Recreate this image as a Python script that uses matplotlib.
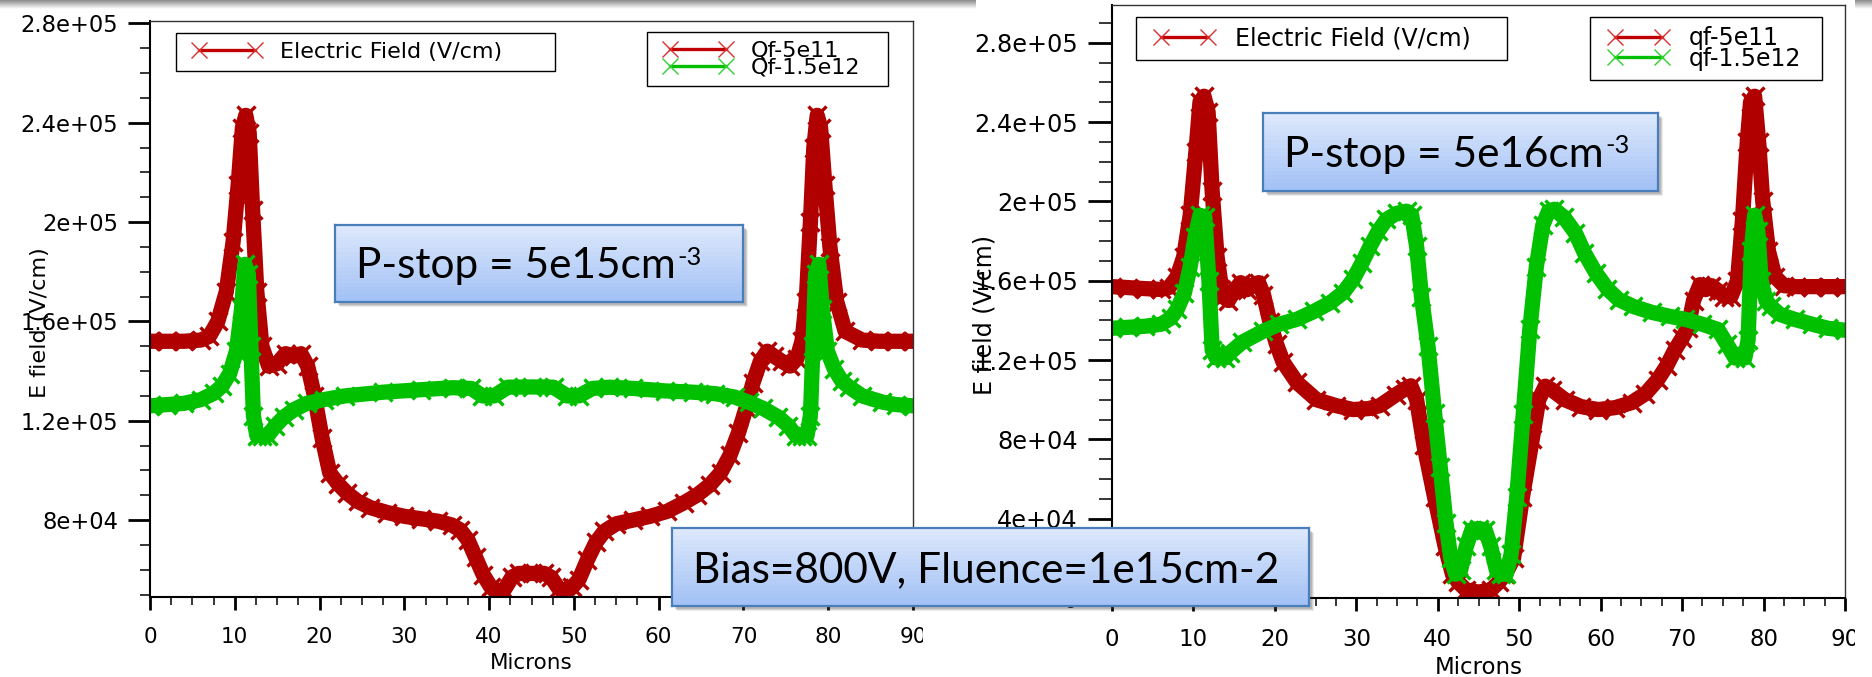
import numpy as np
import matplotlib
matplotlib.use('Agg')
import matplotlib.pyplot as plt
from matplotlib.ticker import MultipleLocator, FuncFormatter
from matplotlib.lines import Line2D
from matplotlib.legend_handler import HandlerLine2D
from matplotlib.colors import LinearSegmentedColormap
from matplotlib.patches import Rectangle

W, H = 1872, 677

# ---- left panel : P-stop = 5e15 ----
xL_red = [0, 2, 4, 6, 7, 8, 9, 9.8, 10.4, 10.9, 11.3, 11.7, 12.1, 12.6, 13.2, 14, 15, 16, 17, 17.8,
          18.6, 19.4, 20.3, 21.2, 22.2, 23.2, 24.5, 26, 28, 30, 32, 34, 35.6, 36.6, 37.5, 38.4, 39.3,
          40.2, 41, 41.8, 42.7, 43.5, 45, 46.5, 47.3, 48.2, 49, 49.8, 50.6, 51.6, 52.6, 53.6, 55, 57,
          59, 61, 63, 64.5, 66, 67.3, 68.4, 69.4, 70.3, 71.1, 72, 72.8, 73.6, 74.5, 75.5, 76.3, 76.9,
          77.4, 77.9, 78.3, 78.7, 79.1, 79.6, 80.2, 81, 82, 84, 86, 88, 90]
yL_red = [1.52e5, 1.52e5, 1.52e5, 1.525e5, 1.54e5, 1.6e5, 1.72e5, 1.92e5, 2.15e5, 2.38e5, 2.43e5,
          2.36e5, 2.05e5, 1.72e5, 1.5e5, 1.42e5, 1.43e5, 1.47e5, 1.46e5, 1.47e5, 1.42e5, 1.3e5,
          1.13e5, 9.9e4, 9.45e4, 9.1e4, 8.75e4, 8.5e4, 8.3e4, 8.15e4, 8.05e4, 7.95e4, 7.8e4, 7.6e4,
          7.2e4, 6.5e4, 5.8e4, 5.3e4, 5.05e4, 5.2e4, 5.7e4, 5.85e4, 5.85e4, 5.85e4, 5.7e4, 5.25e4,
          5.05e4, 5.3e4, 5.6e4, 6.4e4, 7.1e4, 7.55e4, 7.85e4, 8.0e4, 8.15e4, 8.35e4, 8.7e4, 9.0e4,
          9.4e4, 9.9e4, 1.06e5, 1.15e5, 1.25e5, 1.35e5, 1.44e5, 1.48e5, 1.46e5, 1.44e5, 1.42e5,
          1.45e5, 1.52e5, 1.68e5, 2.0e5, 2.3e5, 2.43e5, 2.38e5, 2.15e5, 1.9e5, 1.68e5, 1.56e5,
          1.525e5, 1.52e5, 1.52e5, 1.52e5]

xL_grn = [0, 2, 4, 6, 7.5, 8.5, 9.4, 10.2, 10.8, 11.2, 11.6, 11.9, 12.2, 12.6, 13.2, 13.9, 14.8,
          15.8, 17, 18.5, 20.5, 23, 27.5, 32, 35.7, 37.9, 39.2, 40.6, 42.2, 45, 47.6, 49.2, 50.6,
          52.2, 54.2, 57, 60.8, 64, 66.7, 69, 70.6, 72.3, 74.1, 75.3, 76.2, 76.9, 77.5, 77.9, 78.2,
          78.5, 78.9, 79.3, 79.9, 80.7, 81.6, 82.5, 84, 86.4, 88, 90]
yL_grn = [1.26e5, 1.265e5, 1.27e5, 1.285e5, 1.31e5, 1.34e5, 1.39e5, 1.48e5, 1.65e5, 1.83e5, 1.79e5,
          1.5e5, 1.22e5, 1.14e5, 1.14e5, 1.14e5, 1.18e5, 1.215e5, 1.245e5, 1.27e5, 1.285e5, 1.3e5,
          1.315e5, 1.325e5, 1.333e5, 1.33e5, 1.3e5, 1.3e5, 1.335e5, 1.336e5, 1.335e5, 1.3e5, 1.3e5,
          1.33e5, 1.335e5, 1.33e5, 1.32e5, 1.315e5, 1.309e5, 1.295e5, 1.275e5, 1.25e5, 1.215e5,
          1.18e5, 1.14e5, 1.14e5, 1.14e5, 1.22e5, 1.5e5, 1.79e5, 1.83e5, 1.65e5, 1.48e5, 1.41e5,
          1.36e5, 1.335e5, 1.3e5, 1.275e5, 1.265e5, 1.26e5]

# ---- right panel : P-stop = 5e16 ----
xR_red = [0, 2, 4, 6, 7, 8, 8.8, 9.6, 10.3, 10.8, 11.3, 11.8, 12.3, 12.9, 13.6, 14.3, 15.2, 15.8,
          16.6, 17.4, 18, 18.6, 19.4, 20.2, 21, 22.7, 25.1, 27.5, 29.6, 31.5, 32.9, 34.9, 36, 36.7,
          37.4, 38.3, 39.6, 40.9, 41.8, 42.5, 43.5, 45, 46.5, 47.5, 48.3, 49.3, 50.4, 51.6, 52.4,
          53.2, 54, 55.6, 57.6, 59.7, 61.8, 63.8, 65.5, 67, 68.1, 69.1, 70, 70.7, 71.4, 72.2, 72.9,
          73.6, 74.4, 75.2, 76, 76.8, 77.4, 78, 78.4, 78.9, 79.4, 79.9, 80.6, 81.4, 82.5, 84, 86,
          88, 90]
yR_red = [1.57e5, 1.565e5, 1.56e5, 1.556e5, 1.565e5, 1.62e5, 1.72e5, 1.93e5, 2.25e5, 2.5e5, 2.53e5,
          2.45e5, 2.05e5, 1.72e5, 1.52e5, 1.5e5, 1.56e5, 1.59e5, 1.555e5, 1.58e5, 1.59e5, 1.53e5,
          1.39e5, 1.28e5, 1.19e5, 1.087e5, 1.0e5, 9.7e4, 9.5e4, 9.55e4, 9.7e4, 1.026e5, 1.055e5,
          1.07e5, 1.0e5, 7.7e4, 5.1e4, 2.6e4, 1.2e4, 8e3, 4e3, 3e3, 4e3, 8e3, 1.2e4, 2.0e4, 5.1e4,
          8.0e4, 1.0e5, 1.068e5, 1.05e5, 1.0e5, 9.65e4, 9.5e4, 9.6e4, 9.85e4, 1.03e5, 1.1e5, 1.17e5,
          1.25e5, 1.31e5, 1.36e5, 1.5e5, 1.58e5, 1.555e5, 1.575e5, 1.55e5, 1.52e5, 1.52e5, 1.6e5,
          1.9e5, 2.3e5, 2.5e5, 2.53e5, 2.3e5, 2.0e5, 1.75e5, 1.62e5, 1.575e5, 1.57e5, 1.57e5,
          1.57e5, 1.57e5]

xR_grn = [0, 2, 4, 6, 7.2, 8, 8.9, 9.6, 10.2, 10.8, 11.4, 11.9, 12.3, 12.8, 13.4, 13.9, 14.5, 16,
          18.6, 20.5, 22.7, 24.8, 26.8, 28.4, 29.6, 30.7, 31.7, 32.7, 33.7, 35, 36.2, 36.8, 37.4, 38,
          38.8, 39.6, 40.3, 41, 41.6, 42.2, 42.8, 43.5, 44.2, 45, 45.8, 46.5, 47.2, 47.8, 48.4, 49,
          49.7, 50.5, 51.3, 52.1, 52.9, 53.6, 54.3, 55.5, 56.9, 58, 59.4, 60.8, 62.2, 64, 66.3, 68.5,
          70.4, 72.5, 74.4, 75.5, 76.5, 77.1, 77.7, 78.1, 78.5, 78.9, 79.3, 79.7, 80.3, 80.9, 82,
          83.8, 86, 87.9, 90]
yR_grn = [1.36e5, 1.365e5, 1.37e5, 1.38e5, 1.41e5, 1.455e5, 1.54e5, 1.67e5, 1.82e5, 1.93e5, 1.92e5,
          1.6e5, 1.25e5, 1.21e5, 1.23e5, 1.21e5, 1.237e5, 1.29e5, 1.346e5, 1.38e5, 1.405e5, 1.445e5,
          1.489e5, 1.54e5, 1.606e5, 1.69e5, 1.774e5, 1.85e5, 1.909e5, 1.94e5, 1.95e5, 1.93e5,
          1.774e5, 1.52e5, 1.27e5, 9.35e4, 6.6e4, 3.8e4, 2.0e4, 1.2e4, 1.4e4, 2.6e4, 3.45e4, 3.5e4,
          3.45e4, 2.6e4, 1.4e4, 1.2e4, 1.2e4, 2.2e4, 5.1e4, 9.3e4, 1.354e5, 1.67e5, 1.88e5, 1.95e5,
          1.96e5, 1.92e5, 1.84e5, 1.74e5, 1.64e5, 1.56e5, 1.505e5, 1.47e5, 1.44e5, 1.42e5, 1.405e5,
          1.38e5, 1.354e5, 1.28e5, 1.21e5, 1.23e5, 1.21e5, 1.3e5, 1.75e5, 1.93e5, 1.85e5, 1.6e5,
          1.5e5, 1.47e5, 1.43e5, 1.405e5, 1.38e5, 1.36e5, 1.35e5]

labels_left = ['Qf-5e11', 'Qf-1.5e12']
labels_right = ['qf-5e11', 'qf-1.5e12']
notes = ['P-stop = 5e15cm', 'P-stop = 5e16cm', 'Bias=800V, Fluence=1e15cm-2']

RED = '#b00000'
GRN = '#00c000'
BOXFONT = 'Lato'

fig = plt.figure(figsize=(W / 100, H / 100), dpi=100)
fig.patch.set_facecolor('white')


def px_rect(x0, y0, x1, y1):
    return [x0 / W, 1 - y1 / H, (x1 - x0) / W, (y1 - y0) / H]


def panel(rect, xr, yr, xg, yg, ylim, leg_labels, fs, ytick_len, leg1, leg2, hl, zo):
    ax = fig.add_axes(px_rect(*rect), zorder=zo)
    ax.plot(xr, yr, color=RED, lw=11, marker='x', ms=12.5, mew=2.4, solid_joinstyle='round')
    ax.plot(xg, yg, color=GRN, lw=11, marker='x', ms=12.5, mew=2.4, solid_joinstyle='round')
    ax.set_xlim(0, 90)
    ax.set_ylim(*ylim)
    ax.xaxis.set_major_locator(MultipleLocator(10))
    ax.xaxis.set_minor_locator(MultipleLocator(2.5))
    ax.yaxis.set_major_locator(MultipleLocator(4e4))
    ax.yaxis.set_minor_locator(MultipleLocator(1e4))
    ax.yaxis.set_major_formatter(FuncFormatter(lambda v, p: '{:.2g}'.format(v) if v else '0'))
    ax.tick_params(axis='x', which='major', direction='out', length=9.4, width=2, labelsize=fs, pad=12)
    ax.tick_params(axis='x', which='minor', direction='out', length=5.8, width=1.1)
    ax.tick_params(axis='y', which='major', direction='out', length=ytick_len[0], width=2, labelsize=fs + 0.8, pad=7)
    ax.tick_params(axis='y', which='minor', direction='out', length=ytick_len[1], width=1.1)
    for s in ['left', 'bottom']:
        ax.spines[s].set_linewidth(1.5)
    for s in ['top', 'right']:
        ax.spines[s].set_linewidth(1.0)
        ax.spines[s].set_color('#333333')
    ax.set_xlabel('Microns', fontsize=fs)
    ax.set_ylabel('E field (V/cm)', fontsize=fs + 0.6)

    hmap = {Line2D: HandlerLine2D(marker_pad=0.65, numpoints=2)}
    h_ef = Line2D([], [], color='#c00000', lw=2.4, marker='x', ms=12, mew=1, mec='#d83030')
    l1 = ax.legend([h_ef], ['Electric Field (V/cm)'], loc='upper left', mode='expand',
                   bbox_to_anchor=(leg1[0], leg1[2] - 0.2, leg1[1], 0.2), borderaxespad=0,
                   fancybox=False, edgecolor='black', framealpha=1, fontsize=fs + 0.5,
                   handlelength=hl, handletextpad=0.5, handler_map=hmap)
    l1.get_frame().set_linewidth(1.0)
    ax.add_artist(l1)
    h_r = Line2D([], [], color='#c00000', lw=2.4, marker='x', ms=12, mew=1, mec='#d83030')
    h_g = Line2D([], [], color=GRN, lw=2.4, marker='x', ms=12, mew=1, mec='#30d030')
    l2 = ax.legend([h_r, h_g], leg_labels, loc='upper left', mode='expand',
                   bbox_to_anchor=(leg2[0], leg2[2] - 0.2, leg2[1], 0.2), borderaxespad=0,
                   fancybox=False, edgecolor='black', framealpha=1, fontsize=fs + 0.5,
                   handlelength=hl, handletextpad=0.5, labelspacing=-0.15, handler_map=hmap)
    l2.get_frame().set_linewidth(1.0)
    return ax


axL = panel((150, 21, 913, 597), xL_red, yL_red, xL_grn, yL_grn, (4.9e4, 2.81e5), labels_left,
            15.5, (16, 7), (0.034, 0.497, 0.979), (0.651, 0.316, 0.981), 3.8, 0)
axL.yaxis.set_label_coords(-0.131, 0.477)
axL.xaxis.set_label_coords(0.5, -0.097)

# the right screenshot sits over the end of the left one
fig.patches.append(Rectangle((923 / W, 0), 1 - 923 / W, 1, transform=fig.transFigure,
                             facecolor='white', edgecolor='none', zorder=1))

axR = panel((1112, 5, 1845, 598), xR_red, yR_red, xR_grn, yR_grn, (0, 2.99e5), labels_right,
            16.5, (17.5, 9.4), (0.033, 0.506, 0.980), (0.652, 0.3165, 0.980), 3.3, 2)
axR.yaxis.set_label_coords(-0.157, 0.477)
axR.xaxis.set_label_coords(0.5, -0.098)

fig.patches.append(Rectangle((1855 / W, 0), 1 - 1855 / W, 1, transform=fig.transFigure,
                             facecolor='white', edgecolor='none', zorder=3))

# grey slide shadows at the top
grad = np.linspace(0, 1, 20).reshape(-1, 1)
shade = LinearSegmentedColormap.from_list('shade', ['#8c8c8c', '#ffffff'])
for r in [(0, 0, 975, 9), (1855, 0, 1872, 9)]:
    sa = fig.add_axes(px_rect(*r), zorder=4)
    sa.imshow(grad, aspect='auto', cmap=shade, extent=[0, 1, 0, 1])
    sa.axis('off')

# blue note boxes
bluegrad = LinearSegmentedColormap.from_list('blue', ['#dde8fc', '#a3c2f6'])


def note(rect, text, sup, fs):
    x0, y0, x1, y1 = rect
    for k, a in [(5, 0.10), (4, 0.14), (3, 0.18)]:
        fig.patches.append(Rectangle(((x0 + k) / W, 1 - (y1 + k) / H), (x1 - x0) / W, (y1 - y0) / H,
                                     transform=fig.transFigure, facecolor='#404040', alpha=a,
                                     edgecolor='none', zorder=8))
    bx = fig.add_axes(px_rect(*rect), zorder=10)
    bx.imshow(grad, aspect='auto', cmap=bluegrad, extent=[0, 1, 0, 1])
    bx.set_xlim(0, 1)
    bx.set_ylim(0, 1)
    bx.set_xticks([])
    bx.set_yticks([])
    for s in bx.spines.values():
        s.set_color('#4a7ebb')
        s.set_linewidth(1.6)
    t = bx.text(21 / (x1 - x0), 0.31, text, fontsize=fs, family=BOXFONT, va='baseline', ha='left')
    if sup:
        bx.annotate(sup, xy=(1, 1), xycoords=t, xytext=(1, 1), textcoords='offset points',
                    fontsize=fs * 0.6, family=BOXFONT, va='top', ha='left')


note((335, 225, 743, 302), notes[0], '-3', 30.5)
note((1263, 113, 1658, 191), notes[1], '-3', 30.5)
note((672, 528, 1309, 606), notes[2], None, 30.5)

fig.savefig('out.png', dpi=100)
